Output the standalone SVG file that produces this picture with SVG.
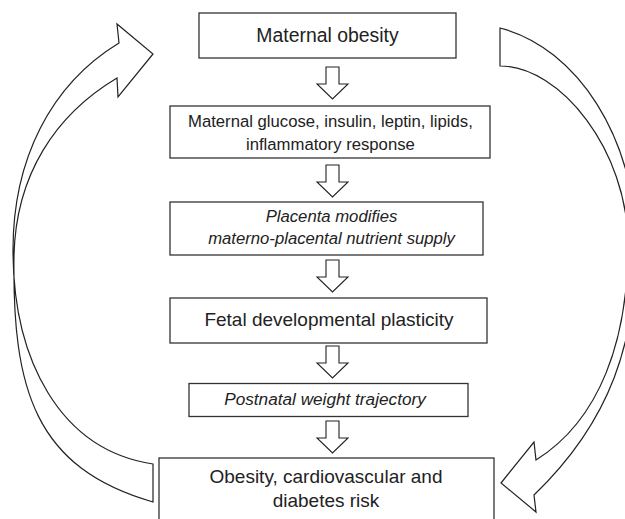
<svg xmlns="http://www.w3.org/2000/svg" xmlns:xlink="http://www.w3.org/1999/xlink" width="625" height="519" viewBox="0 0 625 519">
<style>
  .box { fill: #fff; stroke: #333; stroke-width: 1.3; }
  .t { font-family: "Liberation Sans", Arial, sans-serif; fill: #222; text-anchor: middle; }
  .i { font-style: italic; }
  .big { fill: #fff; stroke: #222; stroke-width: 1.2; stroke-linejoin: miter; }
  .dn { fill: #fff; stroke: #222; stroke-width: 1.1; }
</style>
<defs>
  <path id="down" class="dn" d="M-6.5,0 H6.5 V17 H15.5 L0,32 L-15.5,17 H-6.5 Z"/>
</defs>
<rect width="625" height="519" fill="#fff"/>
<g id="connectors">
  <path id="loop-left" class="big" d="M153,464 L153,502 C35,468 12,390 14,255 C16,175 55,115 117,78 L118,97 L153,54 L117,24 L119,43 C50,85 13,160 13,250 C13,360 60,450 153,464 Z"/>
  <path id="loop-right" class="big" d="M500,28 C578,48 636,140 636,245 C636,340 612,420 534,495 L536,512 L501,483 L534,442 L536,460 C600,420 628,340 628,245 C628,150 560,66 500,66 Z"/>
  <use xlink:href="#down" href="#down" transform="translate(332.5,67)"/>
  <use xlink:href="#down" href="#down" transform="translate(332.5,165)"/>
  <use xlink:href="#down" href="#down" transform="translate(332.5,260)"/>
  <use xlink:href="#down" href="#down" transform="translate(332.5,346)"/>
  <use xlink:href="#down" href="#down" transform="translate(332.5,421)"/>
</g>
<g id="n1">
  <rect class="box" x="199" y="13" width="257" height="45"/>
  <text class="t" x="327.5" y="42" font-size="19.4">Maternal obesity</text>
</g>
<g id="n2">
  <rect class="box" x="170" y="106" width="320" height="52"/>
  <text class="t" x="330.4" y="127" font-size="16.7">Maternal glucose, insulin, leptin, lipids,</text>
  <text class="t" x="330.4" y="150" font-size="16.7">inflammatory response</text>
</g>
<g id="n3">
  <rect class="box" x="170" y="202" width="313" height="53"/>
  <text class="t i" x="331.5" y="222" font-size="16.7">Placenta modifies</text>
  <text class="t i" x="331.5" y="244" font-size="16.7">materno-placental nutrient supply</text>
</g>
<g id="n4">
  <rect class="box" x="170" y="298" width="317" height="45"/>
  <text class="t" x="329" y="326" font-size="19">Fetal developmental plasticity</text>
</g>
<g id="n5">
  <rect class="box" x="189" y="383.5" width="279" height="33"/>
  <text class="t i" x="325" y="405" font-size="17.2">Postnatal weight trajectory</text>
</g>
<g id="n6">
  <rect class="box" x="159" y="458" width="335" height="66"/>
  <text class="t" x="326" y="483" font-size="19">Obesity, cardiovascular and</text>
  <text class="t" x="326" y="507" font-size="19">diabetes risk</text>
</g>
</svg>
